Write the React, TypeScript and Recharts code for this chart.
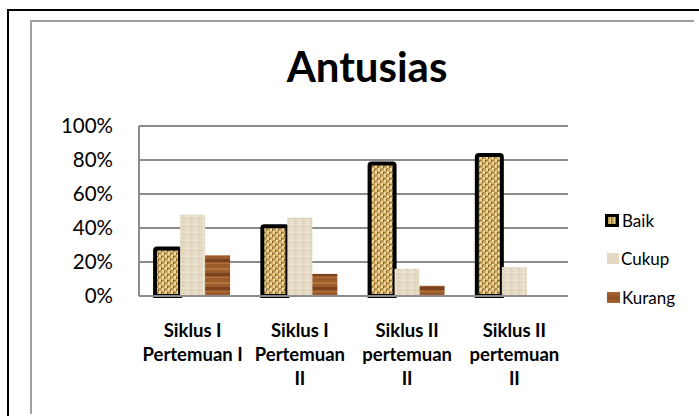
import { Bar, BarChart, CartesianGrid, XAxis, YAxis } from 'recharts';

// Antusias siswa per pertemuan (persen)
const CATEGORIES = ['S1P1', 'S1P2', 'S2P1', 'S2P2'];
const CATEGORY_LINES = [
  ['Siklus I', 'Pertemuan I'],
  ['Siklus I', 'Pertemuan', 'II'],
  ['Siklus II', 'pertemuan', 'II'],
  ['Siklus II', 'pertemuan', 'II'],
];
const BAIK = [28, 41, 78, 83];
const CUKUP = [48, 46, 16, 17];
const KURANG = [24, 13, 6, 0];
const Y_TICKS = [0, 20, 40, 60, 80, 100];

const LEGEND = [
  { key: 'baik', label: 'Baik' },
  { key: 'cukup', label: 'Cukup' },
  { key: 'kurang', label: 'Kurang' },
];

const FONT = 'Lato, "Open Sans", sans-serif';
const GRID = '#8c8c8c';

const data = CATEGORIES.map((c, i) => ({
  cat: c,
  baik: BAIK[i],
  cukup: CUKUP[i],
  kurang: KURANG[i],
}));

function XTick(props: any) {
  const { x, y, payload } = props;
  const lines = CATEGORY_LINES[payload.index] ?? [];
  return (
    <text x={x} y={y} textAnchor="middle" fontFamily={FONT} fontWeight={700} fontSize={18.5} fill="#000">
      {lines.map((l, i) => (
        <tspan key={i} x={x} y={y + 41 + i * 24}>
          {l}
        </tspan>
      ))}
    </text>
  );
}

const SWATCH: Record<string, React.CSSProperties> = {
  baik: {
    width: 8,
    height: 7,
    border: '3px solid #000',
    background: 'repeating-linear-gradient(90deg, #c9a45c 0 2px, #e8d095 2px 3px, #8d6a33 3px 4px)',
  },
  cukup: {
    width: 12,
    height: 11,
    background: '#e4dac4',
    marginLeft: 2,
  },
  kurang: {
    width: 13,
    height: 11,
    background: 'linear-gradient(180deg, #a7652f, #8e5024 60%, #a86a35)',
    marginLeft: 2,
  },
};

export default function App() {
  return (
    <div style={{ position: 'absolute', left: 0, top: 0, width: 699, height: 416, background: '#fff', overflow: 'hidden' }}>
      {/* outer black frame */}
      <div style={{ position: 'absolute', left: 7, top: 9, width: 720, height: 420, borderLeft: '2px solid #000', borderTop: '2px solid #000' }} />
      {/* inner gray frame */}
      <div style={{ position: 'absolute', left: 30, top: 20, width: 662, height: 392, borderLeft: '2px solid #a0a0a0', borderTop: '2px solid #a0a0a0' }} />
      <div
        style={{
          position: 'absolute',
          left: 0,
          width: 734,
          top: 41,
          textAlign: 'center',
          fontFamily: FONT,
          fontWeight: 700,
          fontSize: 42,
          lineHeight: '50px',
          color: '#000',
        }}
      >
        Antusias
      </div>
      <div style={{ position: 'absolute', left: 0, top: 0 }}>
        <BarChart
          width={699}
          height={416}
          data={data}
          margin={{ top: 126, right: 131, bottom: 0, left: 0 }}
          barCategoryGap="15%"
          barGap={0}
        >
          <defs>
            <pattern id="burlap" width="6" height="6" patternUnits="userSpaceOnUse">
              <rect width="6" height="6" fill="#cfa962" />
              <rect x="0" y="0" width="2" height="3" fill="#ecd79c" />
              <rect x="3" y="3" width="2" height="3" fill="#ecd79c" />
              <rect x="2" y="1" width="1" height="2" fill="#7d5c2a" />
              <rect x="5" y="4" width="1" height="2" fill="#7d5c2a" />
              <rect x="0" y="4" width="2" height="1" fill="#a8843f" />
              <rect x="3" y="0" width="2" height="1" fill="#a8843f" />
            </pattern>
            <pattern id="linen" width="8" height="8" patternUnits="userSpaceOnUse">
              <rect width="8" height="8" fill="#e5dbc6" />
              <rect x="0" y="2" width="8" height="1" fill="#d8ccb3" />
              <rect x="3" y="0" width="1" height="8" fill="#efe8d8" />
              <rect x="6" y="5" width="2" height="1" fill="#d2c5aa" />
            </pattern>
            <pattern id="wood" width="25" height="14" patternUnits="userSpaceOnUse">
              <rect width="25" height="14" fill="#9c5b2b" />
              <rect y="2" width="25" height="2" fill="#b4733c" />
              <rect y="7" width="25" height="3" fill="#7a421d" />
              <rect y="11" width="25" height="1" fill="#b06e38" />
            </pattern>
          </defs>
          <CartesianGrid horizontal vertical={false} stroke={GRID} strokeWidth={2} />
          <XAxis
            dataKey="cat"
            height={120}
            tickLine={false}
            tickSize={0}
            tickMargin={0}
            axisLine={{ stroke: GRID, strokeWidth: 2 }}
            tick={<XTick />}
            interval={0}
          />
          <YAxis
            width={139}
            domain={[0, 100]}
            ticks={Y_TICKS}
            tickFormatter={(v: number) => `${v}%`}
            tickLine={false}
            tickSize={0}
            tickMargin={26}
            axisLine={{ stroke: GRID, strokeWidth: 2 }}
            tick={{ fontFamily: FONT, fontSize: 20.5, fill: '#000' }}
          />
          <Bar dataKey="baik" fill="url(#burlap)" stroke="#000" strokeWidth={4} radius={[2, 2, 0, 0]} isAnimationActive={false} />
          <Bar dataKey="cukup" fill="url(#linen)" isAnimationActive={false} />
          <Bar dataKey="kurang" fill="url(#wood)" isAnimationActive={false} />
        </BarChart>
      </div>
      {/* legend */}
      <div style={{ position: 'absolute', left: 605, top: 208, fontFamily: FONT, fontSize: 17, color: '#000' }}>
        {LEGEND.map((it) => (
          <div key={it.key} style={{ display: 'flex', alignItems: 'center', height: 24, marginBottom: 14.5 }}>
            <div style={SWATCH[it.key]} />
            <span style={{ marginLeft: it.key === 'baik' ? 3 : 2 }}>{it.label}</span>
          </div>
        ))}
      </div>
    </div>
  );
}
